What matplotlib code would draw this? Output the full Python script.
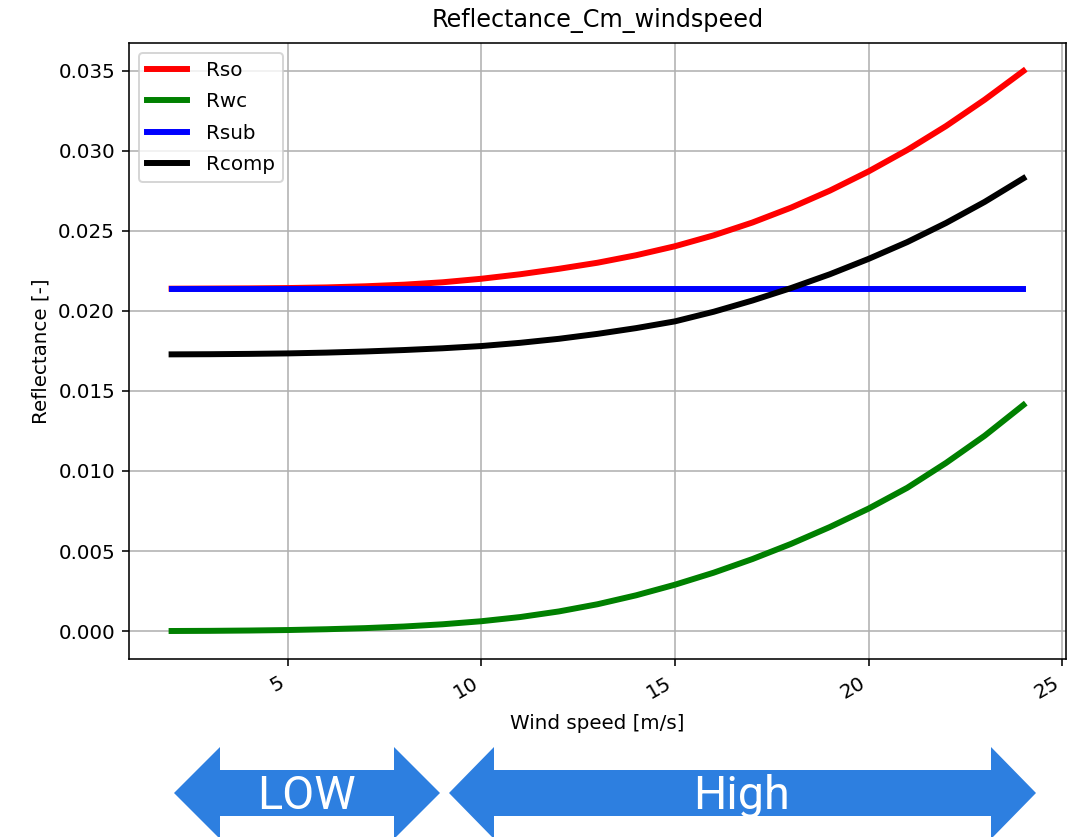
import matplotlib
matplotlib.use("Agg")
import matplotlib.pyplot as plt
from matplotlib.patches import Polygon

# wind speed [m/s]
wind = [2, 3, 4, 5, 6, 7, 8, 9, 10, 11, 12, 13, 14, 15, 16, 17, 18, 19, 20, 21, 22, 23, 24]

# reflectance values
r_so = [0.02138, 0.02139, 0.02140, 0.02142, 0.02146, 0.02153, 0.02163, 0.02178,
        0.02200, 0.02228, 0.02262, 0.02300, 0.02347, 0.02403, 0.02471, 0.02551,
        0.02644, 0.02750, 0.02870, 0.03004, 0.03153, 0.03318, 0.03497]
r_wc = [0.00001, 0.00002, 0.00004, 0.00007, 0.00012, 0.00019, 0.00029, 0.00043,
        0.00062, 0.00088, 0.00123, 0.00168, 0.00224, 0.00290, 0.00365, 0.00450,
        0.00545, 0.00650, 0.00765, 0.00895, 0.01050, 0.01220, 0.01412]
r_sub = [0.02135] * len(wind)
r_comp = [0.01728, 0.01729, 0.01731, 0.01734, 0.01739, 0.01746, 0.01755, 0.01766,
          0.01780, 0.01800, 0.01825, 0.01856, 0.01892, 0.01934, 0.01994, 0.02064,
          0.02142, 0.02228, 0.02324, 0.02429, 0.02548, 0.02680, 0.02827]

series = [("Rso", r_so, "red"), ("Rwc", r_wc, "green"),
          ("Rsub", r_sub, "blue"), ("Rcomp", r_comp, "black")]

# range labels under the plot
ranges = ["LOW", "High"]

W, H, DPI = 1073, 837, 143
fig = plt.figure(figsize=(W / DPI, H / DPI), dpi=DPI)
ax = fig.add_axes([129 / W, 1 - 659 / H, (1066 - 129) / W, (659 - 43) / H])

for name, vals, col in series:
    ax.plot(wind, vals, color=col, lw=3, label=name)

ax.set_title("Reflectance_Cm_windspeed", pad=8)
ax.set_xlabel("Wind speed [m/s]", labelpad=6)
ax.set_ylabel("Reflectance [-]")
ax.grid(True)
ax.legend(loc="upper left", labelspacing=0.62, handletextpad=1.0)
plt.setp(ax.get_xticklabels(), rotation=30, ha="right")


# double headed arrows drawn in figure pixels (y measured from top)
def double_arrow(x0, x1, head, label, xt):
    yc, hh, bh = 793, 46, 23
    pts = [(x0, yc), (x0 + head, yc - hh), (x0 + head, yc - bh),
           (x1 - head, yc - bh), (x1 - head, yc - hh), (x1, yc),
           (x1 - head, yc + hh), (x1 - head, yc + bh),
           (x0 + head, yc + bh), (x0 + head, yc + hh)]
    pts = [(px / W, 1 - py / H) for px, py in pts]
    fig.add_artist(Polygon(pts, closed=True, transform=fig.transFigure,
                           facecolor="#2D7FE0", edgecolor="none"))
    fig.text(xt / W, 1 - 809 / H, label, color="white", ha="center",
             va="baseline", fontsize=23.5, family=["Roboto", "DejaVu Sans"])


double_arrow(174, 440, 46, ranges[0], 306.5)
double_arrow(449, 1036, 45, ranges[1], 741.5)

fig.savefig("out.png", dpi=DPI)
